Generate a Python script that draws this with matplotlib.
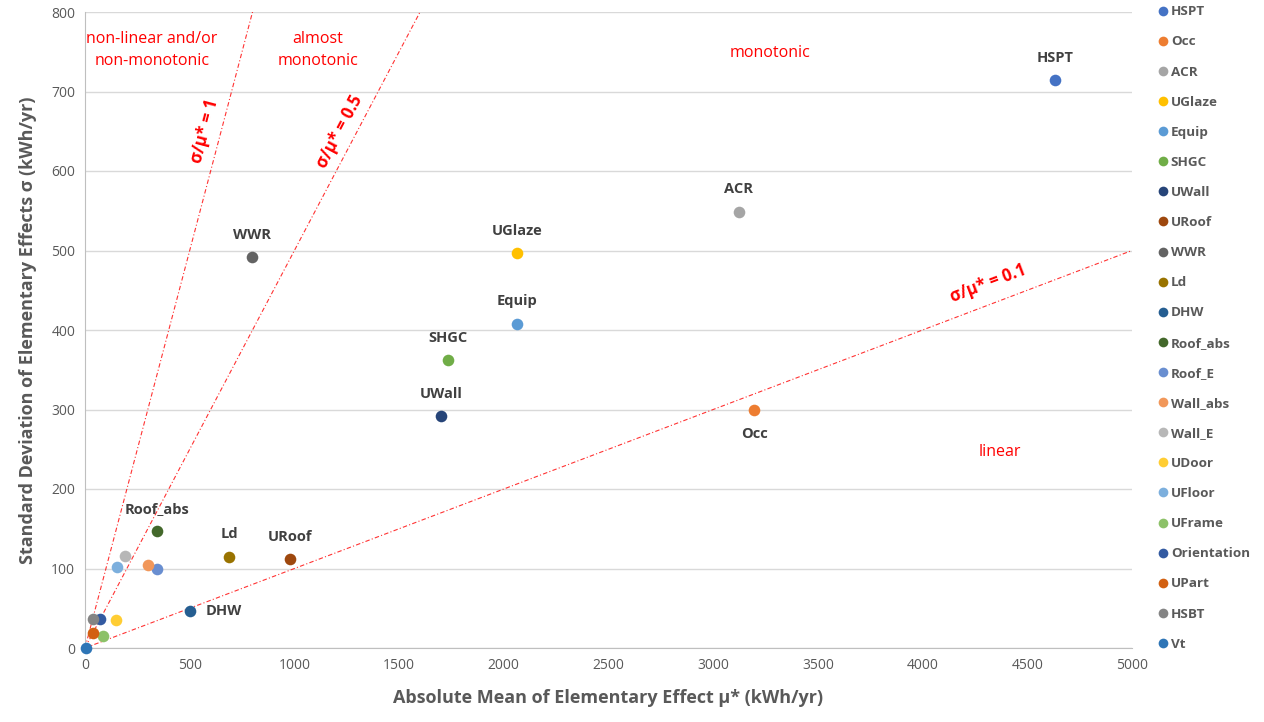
import numpy as np
import matplotlib
matplotlib.use("Agg")
import matplotlib.pyplot as plt
from matplotlib.lines import Line2D

plt.rcParams['font.family'] = ['Open Sans', 'DejaVu Sans']

# elementary effects (mu*, sigma) per parameter
params = ["HSPT", "Occ", "ACR", "UGlaze", "Equip", "SHGC", "UWall", "URoof",
          "WWR", "Ld", "DHW", "Roof_abs", "Roof_E", "Wall_abs", "Wall_E",
          "UDoor", "UFloor", "UFrame", "Orientation", "UPart", "HSBT", "Vt"]
mu_star = [4632, 3195, 3123, 2063, 2063, 1733, 1700, 979,
           797, 688, 501, 344, 344, 301, 191,
           148, 151, 86, 72, 38, 38, 3]
sigma = [714, 299, 548, 497, 408, 362, 292, 112,
         492, 114, 47, 147, 99, 105, 116,
         35, 102, 15, 36, 19, 36, 0]
colors = ["#4472C4", "#ED7D31", "#A5A5A5", "#FFC000", "#5B9BD5", "#70AD47",
          "#264478", "#9E480E", "#636363", "#997300", "#255E91", "#43682B",
          "#698ED0", "#F1975A", "#B7B7B7", "#FFCD33", "#7CAFDD", "#8CC168",
          "#335AA1", "#D26012", "#848484", "#2E75B6"]

# which points get a text label and where (dx, dy in points, ha)
labelled = {"HSPT": (0, 16, "center"), "Occ": (0, -17, "center"),
            "ACR": (0, 17, "center"), "UGlaze": (0, 16, "center"),
            "Equip": (0, 16, "center"), "SHGC": (0, 16, "center"),
            "UWall": (0, 16, "center"), "URoof": (0, 16, "center"),
            "WWR": (0, 16, "center"), "Ld": (0, 17, "center"),
            "DHW": (11, 0, "left"), "Roof_abs": (0, 16, "center")}

ratios = [1, 0.5, 0.1]
ratio_labels = ["σ/μ* = 1", "σ/μ* = 0.5", "σ/μ* = 0.1"]
ratio_label_pos = [(570, 650), (1215, 650), (4315, 459)]

regions = ["non-linear and/or\nnon-monotonic", "almost\nmonotonic", "monotonic", "linear"]
region_pos = [(320, 752), (1113, 752), (3271, 748), (4370, 247)]

grey = "#595959"

fig = plt.figure(figsize=(12.64, 7.22), dpi=100)
ax = fig.add_axes([85 / 1264, 74 / 722, 1047 / 1264, 636 / 722])
ax.set_xlim(0, 5000)
ax.set_ylim(0, 800)

ax.set_xticks(np.arange(0, 5001, 500))
ax.set_yticks(np.arange(0, 801, 100))
ax.tick_params(length=0, colors=grey, labelsize=10, pad=7)
ax.grid(axis="y", color="#D9D9D9", linewidth=1)
ax.set_axisbelow(True)
for s in ["top", "right"]:
    ax.spines[s].set_visible(False)
for s in ["left", "bottom"]:
    ax.spines[s].set_color("#BFBFBF")

# ratio lines through the origin
xs = np.array([0, 5000])
for r in ratios:
    ax.plot(xs, r * xs, color="red", linestyle="-.", linewidth=0.8, alpha=0.8,
            dashes=(4, 2, 1, 2))

fig.canvas.draw()
for r, lab, (lx, ly) in zip(ratios, ratio_labels, ratio_label_pos):
    p0 = ax.transData.transform((0, 0))
    p1 = ax.transData.transform((1000, 1000 * r))
    ang = np.degrees(np.arctan2(p1[1] - p0[1], p1[0] - p0[0]))
    ax.text(lx, ly, lab, color="red", fontsize=12, fontweight="bold",
            rotation=ang, rotation_mode="anchor", ha="center", va="center")

for t, (tx, ty) in zip(regions, region_pos):
    ax.text(tx, ty, t, color="red", fontsize=11.5, ha="center", va="center",
            linespacing=1.45)

for name, x, y, c in zip(params, mu_star, sigma, colors):
    ax.scatter(x, y, s=70, color=c, zorder=3, clip_on=False, linewidths=0)
    if name in labelled:
        dx, dy, ha = labelled[name]
        ax.annotate(name, (x, y), xytext=(dx, dy), textcoords="offset points",
                    ha=ha, va="center", fontsize=10.5, fontweight="bold",
                    color="#404040")

ax.set_xlabel("Absolute Mean of Elementary Effect μ* (kWh/yr)", fontsize=13,
              fontweight="bold", color=grey, labelpad=12)
ax.set_ylabel("Standard Deviation of Elementary Effects σ (kWh/yr)", fontsize=13,
              fontweight="bold", color=grey, labelpad=10)

handles = [Line2D([], [], marker="o", linestyle="", markersize=7,
                  markerfacecolor=c, markeredgewidth=0, label=n)
           for n, c in zip(params, colors)]
fig.legend(handles=handles, loc="upper left", bbox_to_anchor=(1152 / 1264, 1.0),
           frameon=False, labelcolor=grey, handlelength=0.8,
           handletextpad=0.2, labelspacing=1.27, borderaxespad=0,
           prop={"weight": "bold", "size": 9.7})

fig.savefig("out.png", dpi=100)
